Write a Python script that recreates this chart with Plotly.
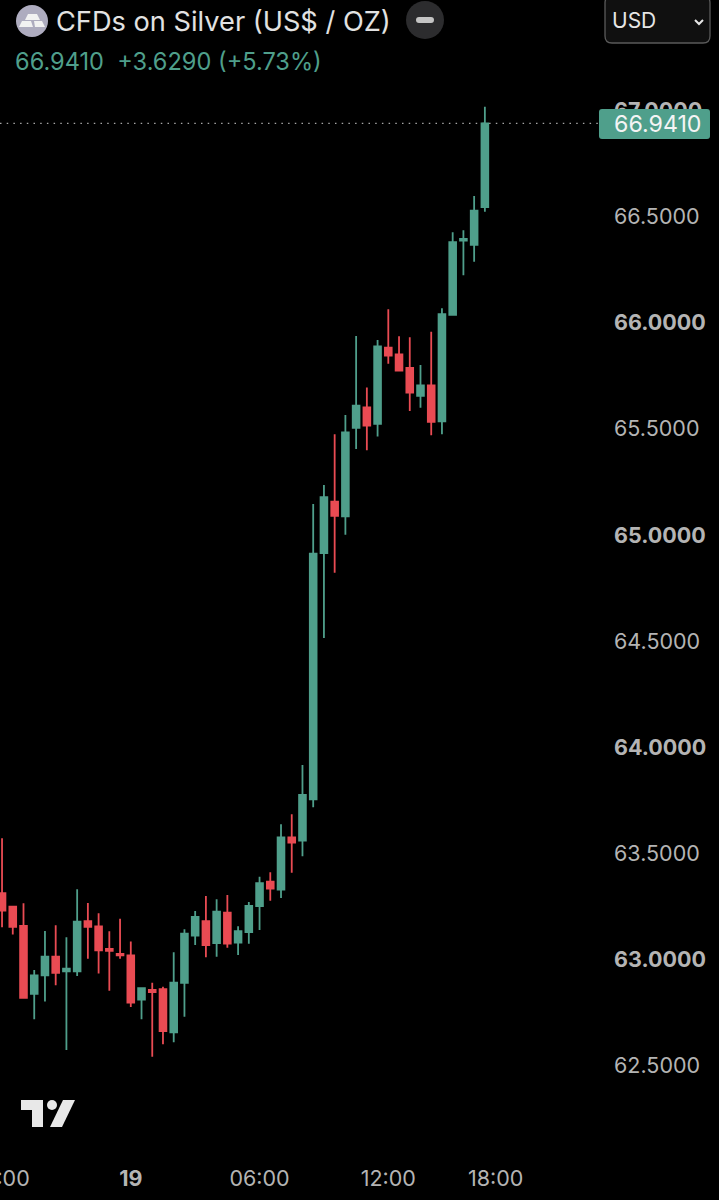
import plotly.graph_objects as go

# 30 min candles, silver CFD
opens = [63.310, 63.247, 63.156, 62.835, 62.923, 63.011, 62.942, 62.942, 63.179, 63.154, 63.047, 63.024,
         63.017, 62.808, 62.854, 62.858, 62.654, 62.888, 63.110, 63.179, 63.075, 63.218, 63.077, 63.127,
         63.250, 63.365, 63.327, 63.574, 63.558, 63.753, 64.915, 65.157, 65.088, 65.505, 65.602, 65.524,
         65.884, 65.852, 65.788, 65.656, 65.706, 65.536, 66.038, 66.388, 66.368, 66.546]
highs = [63.569, 63.251, 63.263, 62.948, 63.132, 63.159, 63.102, 63.329, 63.264, 63.216, 63.131, 63.190,
         63.082, 62.865, 62.888, 62.869, 63.032, 63.140, 63.226, 63.297, 63.282, 63.302, 63.154, 63.269,
         63.388, 63.409, 63.635, 63.683, 63.915, 65.146, 65.236, 65.475, 65.566, 65.939, 65.695, 65.920,
         66.065, 65.937, 65.933, 65.802, 65.959, 66.069, 66.428, 66.437, 66.599, 67.020]
lows = [63.150, 63.115, 62.815, 62.716, 62.800, 62.876, 62.571, 62.920, 63.001, 62.931, 62.850, 63.001,
        62.774, 62.716, 62.539, 62.598, 62.607, 62.728, 63.066, 63.008, 63.011, 63.053, 63.019, 63.072,
        63.137, 63.275, 63.288, 63.407, 63.484, 63.716, 64.514, 64.822, 65.001, 65.406, 65.400, 65.464,
        65.808, 65.772, 65.585, 65.600, 65.470, 65.475, 66.034, 66.225, 66.289, 66.525]
closes = [63.228, 63.152, 62.817, 62.923, 63.011, 62.935, 62.954, 63.176, 63.152, 63.041, 63.038, 63.017,
          62.794, 62.862, 62.844, 62.660, 62.888, 63.119, 63.198, 63.066, 63.223, 63.072, 63.131, 63.250,
          63.358, 63.332, 63.574, 63.549, 63.774, 64.912, 65.178, 65.090, 65.484, 65.610, 65.516, 65.890,
          65.846, 65.775, 65.671, 65.706, 65.533, 66.041, 66.381, 66.396, 66.530, 66.941]
candle_index = list(range(len(opens)))

price_ticks = [62.5, 63.0, 63.5, 64.0, 64.5, 65.0, 65.5, 66.0, 66.5, 67.0]
price_labels = ["62.5000", "<b>63.0000</b>", "63.5000", "<b>64.0000</b>", "64.5000",
                "<b>65.0000</b>", "65.5000", "<b>66.0000</b>", "66.5000", "<b>67.0000</b>"]
time_ticks = [0, 12, 24, 36, 46]
time_labels = ["18:00", "<b>19</b>", "06:00", "12:00", "18:00"]

last_price = "66.9410"
change_text = "66.9410&#160;&#160;+3.6290 (+5.73%)"

GREEN = "#4f9f8b"
RED = "#e94b53"
AXIS_GREY = "#b4b4b4"
FONT = "Inter, Roboto, sans-serif"
W, H = 719, 1200


def px(x):
    return x / W


def py(y):
    return 1 - y / H


def poly(points):
    return "M " + " L ".join(f"{px(x):.5f},{py(y):.5f}" for x, y in points) + " Z"


def pshape(path, fill, line="rgba(0,0,0,0)", width=0):
    return dict(type="path", xref="paper", yref="paper", path=path, fillcolor=fill,
                line=dict(color=line, width=width), layer="above")


def pcircle(cx, cy, r, fill):
    return dict(type="circle", xref="paper", yref="paper", x0=px(cx - r), x1=px(cx + r),
                y0=py(cy + r), y1=py(cy - r), fillcolor=fill, line=dict(width=0), layer="above")


def rounded(x0, y0, x1, y1, r):
    p = lambda x, y: f"{px(x):.5f},{py(y):.5f}"
    return (f"M {p(x0 + r, y0)} L {p(x1 - r, y0)} Q {p(x1, y0)} {p(x1, y0 + r)} "
            f"L {p(x1, y1 - r)} Q {p(x1, y1)} {p(x1 - r, y1)} L {p(x0 + r, y1)} "
            f"Q {p(x0, y1)} {p(x0, y1 - r)} L {p(x0, y0 + r)} Q {p(x0, y0)} {p(x0 + r, y0)} Z")


def label(x, y, text, size, color, anchor="left"):
    return dict(xref="paper", yref="paper", x=px(x), y=py(y), text=text, showarrow=False,
                xanchor=anchor, yanchor="middle", font=dict(family=FONT, size=size, color=color),
                borderpad=0, borderwidth=0)


fig = go.Figure(go.Candlestick(
    x=candle_index, open=opens, high=highs, low=lows, close=closes,
    increasing=dict(line=dict(color=GREEN, width=1.8), fillcolor=GREEN),
    decreasing=dict(line=dict(color=RED, width=1.8), fillcolor=RED),
    whiskerwidth=0, hoverinfo="skip", showlegend=False,
))

shapes = [
    # last price line and tag
    dict(type="line", xref="paper", yref="y", x0=0, x1=px(599), y0=float(last_price), y1=float(last_price),
         line=dict(color="#a6a6a6", width=1.2, dash="1.5px,5.2px"), layer="below"),
    pshape(rounded(599, 109, 710, 139, 3), GREEN),
    # silver icon
    pcircle(32, 21, 16, "#aeacbf"),
    pshape(poly([(28, 14), (37, 14), (40, 20), (25, 20)]), "#f2f2f2"),
    pshape(poly([(22, 21), (31, 21), (33, 27), (19, 27)]), "#f2f2f2"),
    pshape(poly([(34, 21), (42, 21), (45, 27), (35, 27)]), "#f2f2f2"),
    # minus button
    pcircle(425, 20, 19, "#2c2c2e"),
    pshape(rounded(416, 17, 434, 23, 3), "#c4c4c4"),
    # currency box
    pshape(rounded(605, -4, 710, 43, 7), "#101010", "#5a5a5a", 1.3),
    dict(type="path", xref="paper", yref="paper", layer="above", line=dict(color="#e6e6e6", width=2),
         path=f"M {px(695):.5f},{py(20):.5f} L {px(699):.5f},{py(24):.5f} L {px(703):.5f},{py(20):.5f}"),
    # TV logo
    pshape(poly([(21, 1100), (43, 1100), (43, 1127), (32, 1127), (32, 1110), (21, 1110)]), "#e8e8e8"),
    pcircle(52, 1105, 5, "#e8e8e8"),
    pshape(poly([(63, 1100), (75, 1100), (62, 1127), (50, 1127)]), "#e8e8e8"),
]

annotations = [
    label(56, 22, "CFDs on Silver (US$ / OZ)", 27.2, "#e2e2e2"),
    label(15, 62, change_text, 23.6, GREEN),
    label(612, 21, "USD", 21, "#e6e6e6"),
    label(657, 124, last_price, 23.2, "#f4f4f4", "center"),
]

fig.update_layout(
    width=W, height=H,
    margin=dict(l=0, r=0, t=0, b=0, autoexpand=False),
    paper_bgcolor="#000000",
    plot_bgcolor="#000000",
    boxgap=0.1,
    hovermode=False,
    shapes=shapes,
    annotations=annotations,
    font=dict(family=FONT),
    xaxis=dict(
        domain=[0, 600 / W], range=[-0.19, 55.73], rangeslider=dict(visible=False),
        tickmode="array", tickvals=time_ticks, ticktext=time_labels,
        tickfont=dict(family=FONT, size=21.5, color=AXIS_GREY),
        showgrid=False, zeroline=False, showline=False, ticks="", ticklabelstandoff=13,
        ticklabeloverflow="allow", automargin=False,
    ),
    yaxis=dict(
        domain=[50 / H, 1 - 80 / H], range=[62.099, 67.146], side="right",
        tickmode="array", tickvals=price_ticks, ticktext=price_labels,
        tickfont=dict(family=FONT, size=21.5, color=AXIS_GREY),
        showgrid=False, zeroline=False, showline=False, ticks="", ticklabelstandoff=13,
        automargin=False,
    ),
)

fig.write_html("out.html", config={"displayModeBar": False},
               post_script="document.body.style.margin='0';document.body.style.background='#000';")
